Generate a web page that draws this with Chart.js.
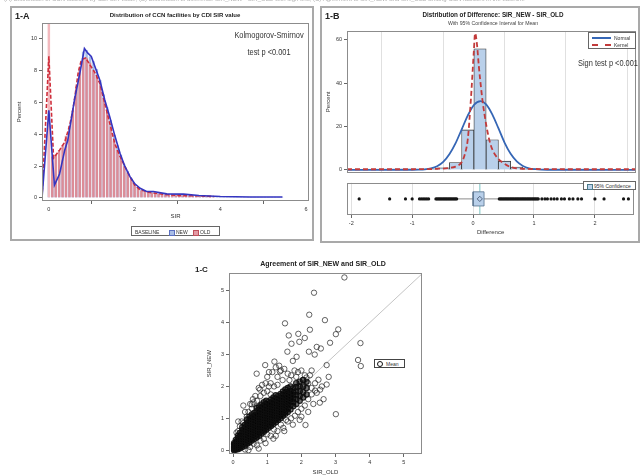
<!DOCTYPE html>
<html>
<head>
<meta charset="utf-8">
<script src="https://cdn.jsdelivr.net/npm/chart.js@4.4.1/dist/chart.umd.min.js"></script>
<style>
body { margin:0; background:#fff; width:640px; height:476px; position:relative; overflow:hidden;
       font-family:"Liberation Sans", Arial, sans-serif; color:#222; }
#page { position:absolute; left:0; top:0; width:640px; height:476px; filter:blur(0.3px); }
.abs { position:absolute; white-space:nowrap; }
.panel { position:absolute; box-sizing:border-box; border:2px solid #a9a9a9; }
.ctr { transform:translateX(-50%); }
.note { color:#333; transform:translateX(-50%) scaleX(0.78); }
.lg { position:absolute; box-sizing:border-box; border:1px solid #666; background:#fff; font-size:5px; color:#333; }
canvas { position:absolute; }
</style>
</head>
<body>
<div id="page">

<div class="abs" style="left:4px;top:-4px;font-size:6px;color:#b0b0b0;">(A) Distribution of CCN facilities by CDI SIR value; (B) Distribution of difference SIR_NEW - SIR_OLD with sign test; (C) Agreement of SIR_NEW and SIR_OLD among CCN facilities in the baseline</div>

<div class="panel" style="left:10px;top:6px;width:304px;height:235px;"></div>
<div class="panel" style="left:320px;top:6px;width:320px;height:237px;"></div>

<canvas id="chartA" width="304" height="212" style="left:10px;top:8px;"></canvas>
<canvas id="chartB" width="317" height="170" style="left:322px;top:8px;"></canvas>
<canvas id="chartBox" width="317" height="58" style="left:322px;top:178px;"></canvas>
<canvas id="chartC" width="232" height="208" style="left:195px;top:268px;"></canvas>

<!-- panel A text -->
<div class="abs" style="left:15px;top:12px;font-size:9px;font-weight:bold;line-height:9px;">1-A</div>
<div class="abs ctr" style="left:175px;top:12px;font-size:6px;font-weight:bold;line-height:7px;">Distribution of CCN facilities by CDI SIR value</div>
<div class="abs note" style="left:269px;top:30px;font-size:9.5px;line-height:10px;">Kolmogorov-Smirnov</div>
<div class="abs note" style="left:269px;top:47px;font-size:9.5px;line-height:10px;">test p &lt;0.001</div>
<div class="lg" style="left:131px;top:226px;width:89px;height:10px;">
  <span class="abs" style="left:3px;top:1.5px;">BASELINE</span>
  <span class="abs" style="left:37px;top:2.5px;width:4px;height:4px;background:#a9bde6;border:0.5px solid #5a6fc0;"></span>
  <span class="abs" style="left:44px;top:1.5px;">NEW</span>
  <span class="abs" style="left:61px;top:2.5px;width:4px;height:4px;background:#e39aa4;border:0.5px solid #c0505c;"></span>
  <span class="abs" style="left:68px;top:1.5px;">OLD</span>
</div>

<!-- panel B text -->
<div class="abs" style="left:325px;top:12px;font-size:9px;font-weight:bold;line-height:9px;">1-B</div>
<div class="abs ctr" style="left:493px;top:11px;font-size:6.3px;font-weight:bold;line-height:7px;">Distribution of Difference: SIR_NEW - SIR_OLD</div>
<div class="abs ctr" style="left:493px;top:20px;font-size:5.2px;line-height:6px;color:#444;">With 95% Confidence Interval for Mean</div>
<div class="lg" style="left:588px;top:32px;width:48px;height:17px;">
  <span class="abs" style="left:3px;top:3.5px;width:19px;height:0;border-top:2px solid #3566b5;"></span>
  <span class="abs" style="left:25px;top:1.5px;">Normal</span>
  <span class="abs" style="left:3px;top:11px;width:19px;height:0;border-top:2px dashed #c23b3b;"></span>
  <span class="abs" style="left:25px;top:9px;">Kernel</span>
</div>
<div class="abs note" style="left:608px;top:58px;font-size:9.5px;line-height:10px;">Sign test p &lt;0.001</div>
<div class="lg" style="left:583px;top:181px;width:53px;height:9px;">
  <span class="abs" style="left:2.5px;top:1.5px;width:4px;height:4px;background:#b9d0ea;border:0.5px solid #4b7a8a;"></span>
  <span class="abs" style="left:10px;top:1px;">95% Confidence</span>
</div>

<!-- panel C text -->
<div class="abs" style="left:195px;top:266px;font-size:8px;font-weight:bold;line-height:8px;">1-C</div>
<div class="abs ctr" style="left:323px;top:260px;font-size:7px;font-weight:bold;line-height:8px;">Agreement of SIR_NEW and SIR_OLD</div>
<div class="lg" style="left:374px;top:359px;width:31px;height:9px;border-color:#444;">
  <span class="abs" style="left:2px;top:1.2px;width:4px;height:4px;border:1px solid #111;border-radius:50%;"></span>
  <span class="abs" style="left:11px;top:1px;">Mean</span>
</div>

</div>

<script>
// ---- panel A: histogram of SIR by baseline (percent per bin) ----
var binsA = [0,0.08,0.16,0.24,0.32,0.40,0.48,0.56,0.64,0.72,0.80,0.88,0.96,1.04,1.12,1.20,1.28,1.36,1.44,1.52,
  1.60,1.68,1.76,1.84,1.92,2.00,2.08,2.16,2.24,2.32,2.40,2.48,2.56,2.64,2.72,2.80,2.88,2.96,3.04,3.12,
  3.20,3.28,3.36,3.44,3.52,3.60,3.68,3.76,3.84,3.92,4.00,4.08,4.16,4.24,4.32,4.40,4.48,4.56,4.64,4.72,
  4.80,4.88,4.96,5.04,5.12,5.20,5.28,5.36,5.44];
var oldPct = [12,2.6,2.7,3.0,3.3,3.9,4.5,5.5,7.0,8.2,8.8,8.8,8.5,8.0,7.6,7.1,6.3,5.4,4.5,3.6,
  3.0,2.5,2.0,1.6,1.2,0.85,0.6,0.45,0.38,0.34,0.3,0.27,0.24,0.22,0.2,0.2,0.18,0.16,0.15,0.14,
  0.13,0.13,0.12,0.13,0.12,0.1,0.1,0.09,0.08];
var newPct = [5.5,1.0,1.0,1.5,2.4,3.3,4.2,5.5,6.8,7.8,9.2,9.3,8.9,8.6,8.1,7.4,6.5,5.7,4.9,4.0,
  3.3,2.7,2.1,1.7,1.25,0.9,0.65,0.5,0.42,0.4,0.4,0.35,0.3,0.27,0.25,0.24,0.23,0.23,0.22,0.22,
  0.2,0.18,0.17,0.16,0.15,0.14,0.12,0.11,0.1,0.09,0.08,0.08,0.07,0.07,0.07,0.06,0.06,0.06,0.06,0.06,
  0.06,0.06,0.06,0.06,0.06,0.06,0.06,0.06,0.06];
var newLineX = [-0.16,0,0.13,0.25,0.37,0.44,0.52,0.6,0.72,0.83,0.91,0.99,1.07,1.19,1.3,1.42,1.54,1.66,1.77,1.89,
  2.0,2.13,2.28,2.44,2.75,3.14,3.5,4.0,4.7,5.45];
var newLineY = [0,5.5,0.8,1.5,3.0,3.6,4.9,6.2,7.8,9.4,9.1,8.9,8.3,7.4,6.2,5.1,3.9,2.8,2.0,1.35,
  0.9,0.6,0.4,0.4,0.25,0.23,0.15,0.08,0.05,0.05];
var oldLineX = [-0.16,0,0.11,0.25,0.37,0.48,0.56,0.63,0.68,0.76,0.86,0.95,1.07,1.19,1.3,1.42,1.54,1.66,1.77,1.89,
  2.0,2.13,2.36,2.75,3.14,3.5,3.85];
var oldLineY = [0,8.9,2.5,3.0,3.5,4.5,5.5,6.8,7.8,8.7,8.8,8.4,7.9,7.2,6.0,4.7,3.4,2.6,2.0,1.35,
  0.8,0.5,0.33,0.2,0.13,0.13,0.08];
var ticksAx = [0,2,4,6];
var ticksAy = [0,2,4,6,8,10];

// ---- panel B: difference SIR_NEW - SIR_OLD ----
var binsB = [-1.9,-1.7,-1.5,-1.3,-1.1,-0.9,-0.7,-0.5,-0.3,-0.1,0.1,0.3,0.5,0.7,0.9,1.1,1.3,1.5,1.7,1.9,2.1,2.3,2.5];
var diffPct = [0.1,0.1,0.1,0.1,0.15,0.2,0.4,0.9,3.4,18.4,55.8,13.9,4.0,1.3,0.5,0.3,0.2,0.15,0.1,0.1,0.1,0.1,0.1];
var normX = [-2.07,-1.0,-0.9,-0.8,-0.7,-0.6,-0.5,-0.4,-0.3,-0.2,-0.1,0.0,0.11,0.2,0.3,0.4,0.5,0.6,0.7,0.8,0.9,1.0,1.1,1.2,2.65];
var normY = [0,0.05,0.1,0.25,0.7,1.7,3.7,7.2,12.2,18.6,25,29.9,31.7,30.2,25.6,19.2,12.6,7.4,3.9,1.8,0.7,0.3,0.1,0.05,0];
var kernX = [-2.07,-1.5,-1.0,-0.6,-0.4,-0.3,-0.2,-0.15,-0.1,-0.05,0.0,0.02,0.05,0.08,0.12,0.15,0.2,0.25,0.3,0.4,0.5,0.6,0.7,0.8,1.0,1.5,2.0,2.65];
var kernY = [0.3,0.3,0.3,0.5,0.9,1.5,3.5,7,14,32,55,63,58,48,37,30,21,14,9.5,5,2.8,1.3,0.7,0.5,0.4,0.3,0.3,0.3];
var boxOutliers = [-1.87,-1.37,-1.11,-1.0,-0.88,-0.85,-0.82,-0.79,-0.76,-0.73,
  -0.61,-0.59,-0.57,-0.55,-0.53,-0.51,-0.49,-0.47,-0.45,-0.43,-0.41,-0.39,-0.37,-0.35,-0.33,-0.31,-0.29,-0.27,
  0.43,0.45,0.47,0.49,0.51,0.53,0.55,0.57,0.59,0.61,0.63,0.65,0.67,0.69,0.71,0.73,0.75,0.77,0.79,0.81,
  0.83,0.85,0.87,0.89,0.91,0.93,0.95,0.97,0.99,1.01,1.03,1.05,1.07,
  1.13,1.18,1.22,1.28,1.33,1.38,1.45,1.5,1.58,1.64,1.72,1.78,2.0,2.15,2.47,2.55];
var whisker = [-0.27, 0.43];
var ciBox = [0.0, 0.18];
var meanDiff = 0.11;
var ticksBx = [-2,-1,0,1,2];
var ticksBy = [0,20,40,60];

// ---- panel C: SIR_OLD (x) vs SIR_NEW (y) ----
var cloudColumns = [
  [0.03,[0.0,0.04,0.08,0.12,0.17,0.22]],
  [0.08,[0.02,0.06,0.1,0.15,0.2,0.26,0.32]],
  [0.14,[0.03,0.08,0.13,0.19,0.25,0.31,0.38,0.45]],
  [0.2,[0.06,0.12,0.18,0.25,0.32,0.39,0.46,0.54]],
  [0.27,[0.1,0.17,0.24,0.31,0.39,0.47,0.55,0.63,0.72]],
  [0.34,[0.14,0.22,0.3,0.38,0.46,0.54,0.62,0.7,0.79]],
  [0.41,[0.2,0.28,0.36,0.44,0.52,0.6,0.68,0.76,0.85,0.95]],
  [0.48,[0.24,0.32,0.4,0.48,0.56,0.64,0.72,0.8,0.88,0.97,1.06]],
  [0.55,[0.3,0.38,0.46,0.54,0.62,0.7,0.78,0.86,0.94,1.02,1.12]],
  [0.62,[0.35,0.43,0.51,0.59,0.67,0.75,0.83,0.91,0.99,1.07,1.17]],
  [0.69,[0.4,0.48,0.56,0.64,0.72,0.8,0.88,0.96,1.04,1.12,1.22,1.32]],
  [0.76,[0.45,0.53,0.61,0.69,0.77,0.85,0.93,1.01,1.09,1.17,1.27,1.37]],
  [0.83,[0.52,0.6,0.68,0.76,0.84,0.92,1.0,1.08,1.16,1.24,1.33,1.43]],
  [0.9,[0.58,0.66,0.74,0.82,0.9,0.98,1.06,1.14,1.22,1.3,1.39,1.5]],
  [0.97,[0.64,0.72,0.8,0.88,0.96,1.04,1.12,1.2,1.28,1.36,1.45,1.55]],
  [1.04,[0.7,0.78,0.86,0.94,1.02,1.1,1.18,1.26,1.34,1.42,1.52]],
  [1.11,[0.76,0.84,0.92,1.0,1.08,1.16,1.24,1.32,1.4,1.48,1.58]],
  [1.18,[0.82,0.9,0.98,1.06,1.14,1.22,1.3,1.38,1.46,1.55,1.65]],
  [1.25,[0.88,0.96,1.04,1.12,1.2,1.28,1.36,1.44,1.52,1.62,1.72]],
  [1.32,[0.95,1.03,1.11,1.19,1.27,1.35,1.43,1.51,1.6,1.7]],
  [1.39,[1.0,1.08,1.16,1.24,1.32,1.4,1.48,1.56,1.65,1.76]],
  [1.46,[1.08,1.16,1.24,1.32,1.4,1.48,1.56,1.64,1.73,1.84]],
  [1.53,[1.14,1.22,1.3,1.38,1.46,1.54,1.62,1.7,1.8,1.9]],
  [1.6,[1.2,1.3,1.4,1.48,1.56,1.64,1.72,1.82,1.95]],
  [1.68,[1.28,1.4,1.5,1.6,1.68,1.76,1.86,2.0]],
  [1.76,[1.38,1.5,1.62,1.72,1.82,1.94]],
  [1.85,[1.45,1.6,1.72,1.84,1.98,2.1]],
  [1.95,[1.55,1.7,1.85,2.0,2.15]],
  [2.05,[1.65,1.82,2.0,2.2]],
  [2.15,[1.75,1.95,2.15]]
];
var haloPoints = [[0.3,0.85],[0.45,1.2],[0.55,1.3],[0.6,1.5],[0.7,1.55],[0.8,1.7],[0.9,1.8],[1.0,1.85],[1.05,2.0],
  [1.1,2.1],[1.2,2.0],[1.3,2.3],[1.15,2.45],[0.85,2.05],[1.45,2.2],[1.6,2.4],[1.7,2.35],[1.8,2.5],[1.9,2.45],
  [2.0,2.5],[2.1,2.35],[2.2,2.1],[2.3,2.5],[1.4,2.5],[1.0,2.3],[0.5,0.1],[0.6,0.2],[0.8,0.3],[1.0,0.5],[1.1,0.45],
  [1.3,0.6],[1.4,0.8],[1.6,0.9],[1.7,1.0],[1.9,1.2],[2.0,1.3],[2.1,1.4],[2.2,1.6],[2.3,1.75],[1.2,0.65],[0.9,0.35],
  [0.7,0.15],[0.35,0.02],[2.45,1.8],[2.6,2.0],[2.0,1.05],[1.55,0.95],[0.25,0.9],[0.2,0.75],[0.15,0.6],[0.4,1.05],
  [0.65,1.7],[1.25,2.6],[1.75,2.8],[0.35,1.2],[0.5,1.45],[0.58,1.6],[0.75,1.95],[0.95,2.1],[1.05,2.45],[1.3,2.05],
  [1.35,2.65],[1.5,2.55],[1.65,2.2],[1.85,2.3],[2.05,2.2],[2.25,2.35],[2.4,2.1],[2.55,1.9],[2.35,1.45],[2.2,1.2],
  [1.95,0.95],[1.75,0.8],[1.5,0.6],[1.25,0.45],[0.95,0.22],[0.75,0.05],[0.45,0.0],[2.65,1.6],[2.8,2.3],[0.15,0.9],
  [0.1,0.55],[0.3,1.4],[1.1,1.75]];
var outlierPoints = [[3.26,5.42],[2.37,4.94],[2.23,4.25],[2.69,4.08],[1.52,3.98],[3.08,3.79],[3.01,3.64],[2.25,3.78],
  [1.91,3.65],[1.63,3.6],[2.1,3.52],[1.94,3.4],[1.71,3.34],[2.84,3.37],[3.73,3.36],[2.45,3.24],[2.57,3.19],[2.22,3.09],
  [1.59,3.09],[2.39,3.0],[1.86,2.93],[3.66,2.83],[3.74,2.64],[2.74,2.67],[1.21,2.78],[0.94,2.67],[1.37,2.47],[0.69,2.4],
  [2.3,1.95],[2.15,2.28],[2.4,1.87],[2.5,2.21],[2.74,2.06],[2.54,1.49],[3.01,1.13],[2.12,0.79],[0.79,1.9],[0.55,1.44],
  [0.4,0.98],[1.47,0.7],[1.18,0.36],[1.81,1.08]];
var refLine = [0, 5.53];
var ticksC = [0,1,2,3,4,5];

Chart.defaults.font.family = '"Liberation Sans", Arial, sans-serif';
Chart.defaults.color = '#333';

function pairs(xs, ys) {
  return ys.map(function(y, i){ return {x: xs[i], y: y}; });
}
function fixTicks(values) {
  return function(scale){ scale.ticks = values.map(function(v){ return {value: v}; }); };
}
function setWidth(w) { return function(s){ s.width = w; }; }
function setHeight(h) { return function(s){ s.height = h; }; }

var framePlugin = {
  id: 'frame',
  afterDraw: function(chart) {
    var a = chart.chartArea, ctx = chart.ctx;
    ctx.save();
    ctx.strokeStyle = '#8c8c8c';
    ctx.lineWidth = 1;
    ctx.strokeRect(Math.round(a.left) + 0.5, Math.round(a.top) + 0.5,
      Math.round(a.right - a.left) - 1, Math.round(a.bottom - a.top) - 1);
    ctx.restore();
  }
};

var tickGrid = {drawOnChartArea: false, tickLength: 3, color: '#666'};
var tickFont = {size: 5.5};
var noPlugins = {legend: {display: false}, tooltip: {enabled: false}};

// panel A
new Chart(document.getElementById('chartA'), {
  type: 'bar',
  data: {
    datasets: [
      {type: 'line', label: 'NEW', data: pairs(newLineX, newLineY), borderColor: '#3535c0', borderWidth: 1.6,
       pointRadius: 0, tension: 0, order: 0},
      {type: 'line', label: 'OLD', data: pairs(oldLineX, oldLineY), borderColor: '#cf2f3c', borderWidth: 1.6,
       borderDash: [4, 2], pointRadius: 0, tension: 0, order: 1},
      {label: 'OLD', data: pairs(binsA, oldPct), grouped: false, barPercentage: 0.72, categoryPercentage: 1,
       backgroundColor: function(c){ return c.dataIndex === 0 ? '#f2b9be' : '#dc8c97'; }, order: 2},
      {label: 'NEW', data: pairs(binsA, newPct), grouped: false, barPercentage: 0.72, categoryPercentage: 1,
       backgroundColor: 'rgba(155,182,230,0.9)', order: 3}
    ]
  },
  options: {
    responsive: false, animation: false, devicePixelRatio: 1,
    layout: {padding: {top: 15, right: 5, bottom: 0, left: 6}},
    plugins: noPlugins,
    scales: {
      x: {type: 'linear', offset: false, min: -0.16, max: 6.07, afterBuildTicks: fixTicks(ticksAx), afterFit: setHeight(19),
          grid: tickGrid, border: {display: false},
          ticks: {font: tickFont, padding: 2, maxRotation: 0, autoSkip: false},
          title: {display: true, text: 'SIR', font: {size: 6}, padding: 0}},
      y: {min: -0.2, max: 11, afterBuildTicks: fixTicks(ticksAy), afterFit: setWidth(26),
          grid: tickGrid, border: {display: false},
          ticks: {font: tickFont, padding: 2, autoSkip: false},
          title: {display: true, text: 'Percent', font: {size: 6}, padding: 0}}
    }
  },
  plugins: [framePlugin]
});

// panel B, histogram part
new Chart(document.getElementById('chartB'), {
  type: 'bar',
  data: {
    datasets: [
      {type: 'line', label: 'Kernel', data: pairs(kernX, kernY), borderColor: '#c23b3b', borderWidth: 1.8,
       borderDash: [5, 3], pointRadius: 0, cubicInterpolationMode: 'monotone', order: 0},
      {type: 'line', label: 'Normal', data: pairs(normX, normY), borderColor: '#3566b5', borderWidth: 1.8,
       pointRadius: 0, cubicInterpolationMode: 'monotone', order: 1},
      {label: 'Difference', data: pairs(binsB, diffPct), grouped: false, barPercentage: 1, categoryPercentage: 1,
       backgroundColor: '#b9d0ea', borderColor: '#333', borderWidth: 0.8, order: 2}
    ]
  },
  options: {
    responsive: false, animation: false, devicePixelRatio: 1,
    layout: {padding: {top: 23, right: 3, bottom: 1, left: 3}},
    plugins: noPlugins,
    scales: {
      x: {type: 'linear', offset: false, min: -2.07, max: 2.645, afterBuildTicks: fixTicks(ticksBx), afterFit: setHeight(0),
          grid: {color: '#e0e0e0', drawTicks: false}, border: {display: false}, ticks: {display: false}},
      y: {min: -1.3, max: 64, afterBuildTicks: fixTicks(ticksBy), afterFit: setWidth(22),
          grid: tickGrid, border: {display: false},
          ticks: {font: tickFont, padding: 2, autoSkip: false},
          title: {display: true, text: 'Percent', font: {size: 6}, padding: 0}}
    }
  },
  plugins: [framePlugin]
});

// panel B, box part
var rowY = 0.5;
new Chart(document.getElementById('chartBox'), {
  type: 'scatter',
  data: {
    datasets: [
      {label: 'outliers', data: boxOutliers.map(function(v){ return {x: v, y: rowY}; }),
       pointRadius: 1.6, pointBackgroundColor: '#151515', pointBorderColor: '#151515', pointBorderWidth: 0, order: 0},
      {type: 'line', label: 'mean', data: [{x: meanDiff, y: 0}, {x: meanDiff, y: 1}],
       borderColor: '#a6d8d8', borderWidth: 1.5, pointRadius: 0, order: 3},
      {type: 'line', label: 'whisker', data: whisker.map(function(v){ return {x: v, y: rowY}; }),
       borderColor: '#8a8a8a', borderWidth: 1, pointRadius: 0, order: 4},
      {type: 'line', label: 'box', order: 1, pointRadius: 0, fill: 'shape', tension: 0,
       data: [{x: ciBox[0], y: 0.28}, {x: ciBox[1], y: 0.28}, {x: ciBox[1], y: 0.72}, {x: ciBox[0], y: 0.72}, {x: ciBox[0], y: 0.28}],
       borderColor: '#55708c', borderWidth: 0.8, backgroundColor: '#b9d0ea'},
      {label: 'meanmark', data: [{x: meanDiff, y: rowY}], pointStyle: 'rectRot', pointRadius: 2.6,
       pointBorderColor: '#3a4a66', pointBackgroundColor: 'rgba(0,0,0,0)', pointBorderWidth: 0.8, order: 0}
    ]
  },
  options: {
    responsive: false, animation: false, devicePixelRatio: 1,
    layout: {padding: {top: 0, right: 3, bottom: 0, left: 3}},
    plugins: noPlugins,
    scales: {
      x: {type: 'linear', min: -2.07, max: 2.645, afterBuildTicks: fixTicks(ticksBx), afterFit: setHeight(21),
          grid: {color: '#e0e0e0', tickLength: 3, tickColor: '#666'}, border: {display: false},
          ticks: {font: tickFont, padding: 2, maxRotation: 0, autoSkip: false},
          title: {display: true, text: 'Difference', font: {size: 6}, padding: 0}},
      y: {min: 0, max: 1, afterFit: setWidth(22), grid: {display: false}, border: {display: false},
          ticks: {display: false}}
    }
  },
  plugins: [framePlugin]
});

// panel C
var cloudPts = [];
cloudColumns.forEach(function(col){
  col[1].forEach(function(y){ cloudPts.push({x: col[0], y: y}); });
});
var loosePts = haloPoints.concat(outlierPoints).map(function(p){ return {x: p[0], y: p[1]}; });

new Chart(document.getElementById('chartC'), {
  type: 'scatter',
  data: {
    datasets: [
      {label: 'Mean', data: loosePts, pointRadius: 2.7, pointBorderWidth: 0.9,
       pointBorderColor: 'rgba(40,40,40,0.8)', pointBackgroundColor: 'rgba(0,0,0,0)', order: 1},
      {label: 'Mean core', data: cloudPts, pointRadius: 2.7, pointBorderWidth: 1.1,
       pointBorderColor: 'rgba(15,15,15,0.9)', pointBackgroundColor: 'rgba(0,0,0,0.55)', order: 0},
      {type: 'line', label: 'ref', data: refLine.map(function(v){ return {x: v, y: v}; }),
       borderColor: '#c4c4c4', borderWidth: 1, pointRadius: 0, order: 2}
    ]
  },
  options: {
    responsive: false, animation: false, devicePixelRatio: 1,
    layout: {padding: {top: 2, right: 5, bottom: 0, left: 11}},
    plugins: noPlugins,
    scales: {
      x: {type: 'linear', min: -0.12, max: 5.53, afterBuildTicks: fixTicks(ticksC), afterFit: setHeight(22),
          grid: tickGrid, border: {display: false},
          ticks: {font: tickFont, padding: 2, maxRotation: 0, autoSkip: false},
          title: {display: true, text: 'SIR_OLD', font: {size: 6}, padding: 0}},
      y: {min: -0.12, max: 5.55, afterBuildTicks: fixTicks(ticksC), afterFit: setWidth(23),
          grid: tickGrid, border: {display: false},
          ticks: {font: tickFont, padding: 2, autoSkip: false},
          title: {display: true, text: 'SIR_NEW', font: {size: 6}, padding: 0}}
    }
  },
  plugins: [framePlugin]
});
</script>
</body>
</html>
